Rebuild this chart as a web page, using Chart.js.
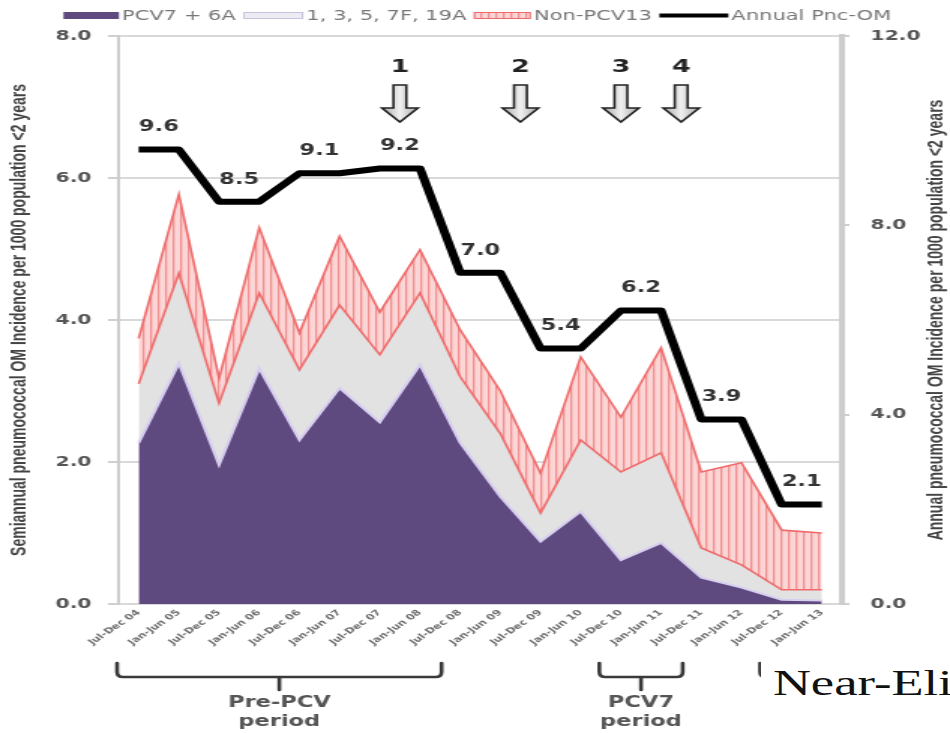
<!DOCTYPE html>
<html><head><meta charset="utf-8">
<script src="https://cdn.jsdelivr.net/npm/chart.js@4.4.1/dist/chart.umd.min.js"></script>
<style>
html,body{margin:0;padding:0;background:#fff;overflow:hidden;width:950px;height:733px}
#wrap{position:absolute;left:0;top:0;width:633px;height:733px;transform-origin:0 0;transform:scaleX(1.50079)}
#c{position:absolute;left:0;top:0}
#note{position:absolute;left:507px;top:657px;width:130px;height:76px;background:#fff;overflow:hidden;font-family:"Liberation Serif","DejaVu Serif",serif;font-size:35px;color:#111;white-space:nowrap}
#note span{position:absolute;left:8px;top:7px;line-height:40px}
</style></head>
<body>
<div id="wrap"><canvas id="c" width="633" height="733"></canvas><div id="note"><span>Near-Eli</span></div></div>
<script>
// ---------- data ----------
const categories = ['Jul-Dec 04','Jan-Jun 05','Jul-Dec 05','Jan-Jun 06','Jul-Dec 06','Jan-Jun 07','Jul-Dec 07','Jan-Jun 08','Jul-Dec 08','Jan-Jun 09','Jul-Dec 09','Jan-Jun 10','Jul-Dec 10','Jan-Jun 11','Jul-Dec 11','Jan-Jun 12','Jul-Dec 12','Jan-Jun 13'];
const seriesNames = ['PCV7 + 6A','1, 3, 5, 7F, 19A','Non-PCV13','Annual Pnc-OM'];
const pcv7Values    = [2.27,3.39,1.96,3.32,2.31,3.04,2.56,3.37,2.27,1.51,0.88,1.30,0.62,0.86,0.37,0.23,0.06,0.05];
const pcv13AddValues= [0.83,1.27,0.87,1.06,0.99,1.17,0.95,1.01,0.93,0.89,0.40,1.01,1.24,1.27,0.42,0.32,0.14,0.15];
const nonPcv13Values= [0.64,1.11,0.35,0.92,0.52,0.97,0.60,0.61,0.66,0.60,0.56,1.17,0.77,1.48,1.07,1.44,0.84,0.80];
const annualValues  = [9.6,9.6,8.5,8.5,9.1,9.1,9.2,9.2,7.0,7.0,5.4,5.4,6.2,6.2,3.9,3.9,2.1,2.1];
const eventLabels = ['1','2','3','4'];
const eventIndex  = [6.5,9.5,12,13.5];
const periodLabels = [['Pre-PCV','period'],['PCV7','period'],['PCV13','period']];
const periodStart = [0,12,16];
const periodEnd   = [7,13,17];
const leftTitle  = 'Semiannual pneumococcal OM Incidence per 1000 population <2 years';
const rightTitle = 'Annual pneumococcal OM Incidence per 1000 population <2 years';

// ---------- styles ----------
const PURPLE = '#5f4a80', GRAY = '#e2e2e2', REDLINE = '#ef6b6b';
const canvas = document.getElementById('c');
const ctx0 = canvas.getContext('2d');
function makeHatch(){
  const p = document.createElement('canvas'); p.width = 5; p.height = 10;
  const g = p.getContext('2d');
  g.fillStyle = '#fcd6d6'; g.fillRect(0,0,5,10);
  g.fillStyle = '#f09090'; g.fillRect(0,0,1.3,10);
  return ctx0.createPattern(p,'repeat');
}
const hatch = makeHatch();

const decor = {
  id:'decor',
  afterDraw(chart){
    const ctx = chart.ctx, xs = chart.scales.x, y1 = chart.scales.y1;
    const p0 = xs.getPixelForValue(0), step = xs.getPixelForValue(1) - p0;
    const px = i => p0 + step*i;
    ctx.save();
    // legend
    ctx.font = '14px "DejaVu Sans"';
    ctx.textBaseline = 'middle'; ctx.textAlign = 'left';
    const boxW = [37,40,38,46];
    let total = 0;
    const tw = seriesNames.map(s => ctx.measureText(s).width);
    for (let k=0;k<4;k++) total += boxW[k] + 2 + tw[k];
    total += 3*5;
    let x = 318 - total/2;
    for (let k=0;k<4;k++){
      if (k===0){ ctx.fillStyle = PURPLE; ctx.fillRect(x,12,boxW[k],7); }
      else if (k===1){ ctx.fillStyle='#ececf2'; ctx.fillRect(x,12,boxW[k],7); ctx.strokeStyle='#c9c2de'; ctx.lineWidth=1; ctx.strokeRect(x+0.5,12.5,boxW[k]-1,6); }
      else if (k===2){ ctx.fillStyle=hatch; ctx.fillRect(x,12,boxW[k],7); ctx.strokeStyle=REDLINE; ctx.lineWidth=1; ctx.strokeRect(x+0.5,12.5,boxW[k]-1,6); }
      else { ctx.fillStyle='#000'; ctx.fillRect(x,13.5,boxW[k],4); }
      x += boxW[k] + 2;
      ctx.fillStyle = '#777';
      ctx.fillText(seriesNames[k], x, 16);
      x += tw[k] + 5;
    }
    // annual labels
    ctx.font = 'bold 15px "DejaVu Sans"'; ctx.fillStyle = '#333'; ctx.textAlign = 'center';
    for (let i=0;i<annualValues.length;i+=2){
      const xm = (px(i)+px(i+1))/2;
      const yv = y1.getPixelForValue(annualValues[i]);
      ctx.fillText(annualValues[i].toFixed(1), xm, yv - 22);
    }
    // event arrows
    for (let k=0;k<eventLabels.length;k++){
      const cx = px(eventIndex[k]);
      ctx.font = 'bold 18px "DejaVu Sans"'; ctx.fillStyle = '#222';
      ctx.fillText(eventLabels[k], cx, 67);
      const hw = 12, sw = 4.3, top = 85, hy = 108, bot = 122;
      ctx.beginPath();
      ctx.moveTo(cx-sw,top); ctx.lineTo(cx+sw,top); ctx.lineTo(cx+sw,hy); ctx.lineTo(cx+hw,hy);
      ctx.lineTo(cx,bot); ctx.lineTo(cx-hw,hy); ctx.lineTo(cx-sw,hy); ctx.closePath();
      const gr = ctx.createLinearGradient(cx-hw,0,cx+hw,0);
      gr.addColorStop(0,'#a8a8a8'); gr.addColorStop(0.5,'#f0f0f0'); gr.addColorStop(1,'#a8a8a8');
      ctx.fillStyle = gr; ctx.fill();
      ctx.strokeStyle = '#222'; ctx.lineWidth = 1.6; ctx.lineJoin='miter'; ctx.stroke();
    }
    // period brackets
    for (let k=0;k<periodLabels.length;k++){
      const xa = px(periodStart[k]) - step/2 - 1, xb = px(periodEnd[k]) + step/2 + 1, xm = (xa+xb)/2;
      ctx.strokeStyle = '#3a3a3a'; ctx.lineWidth = 2.6; ctx.lineCap='round';
      ctx.beginPath();
      ctx.moveTo(xa,663); ctx.lineTo(xa,672); ctx.quadraticCurveTo(xa,677,xa+4,677);
      ctx.lineTo(xb-4,677); ctx.quadraticCurveTo(xb,677,xb,672); ctx.lineTo(xb,663);
      ctx.moveTo(xm,677); ctx.lineTo(xm,690);
      ctx.stroke();
      ctx.font = 'bold 15px "DejaVu Sans"'; ctx.fillStyle = '#555';
      ctx.fillText(periodLabels[k][0], xm, 703);
      ctx.fillText(periodLabels[k][1], xm, 722);
    }
    // right title
    ctx.translate(624.5, (chart.chartArea.top+chart.chartArea.bottom)/2);
    ctx.rotate(-Math.PI/2);
    ctx.font = 'bold 14px "Liberation Sans"'; ctx.fillStyle = '#444';
    ctx.fillText(rightTitle, 0, 0);
    ctx.restore();
  }
};

const tickFont = {family:'DejaVu Sans', size:13.5, weight:'bold'};
new Chart(canvas, {
  type:'line',
  data:{
    labels: categories,
    datasets:[
      {label:seriesNames[0], data:pcv7Values, yAxisID:'y', fill:'origin', backgroundColor:PURPLE, borderColor:'#d8cff0', borderWidth:2, pointRadius:0, tension:0},
      {label:seriesNames[1], data:pcv13AddValues, yAxisID:'y', fill:'-1', backgroundColor:GRAY, borderColor:REDLINE, borderWidth:1.6, pointRadius:0, tension:0},
      {label:seriesNames[2], data:nonPcv13Values, yAxisID:'y', fill:'-1', backgroundColor:hatch, borderColor:REDLINE, borderWidth:1.6, pointRadius:0, tension:0},
      {label:seriesNames[3], data:annualValues, yAxisID:'y1', fill:false, borderColor:'#000', borderWidth:6, pointRadius:0, tension:0, order:-1, borderJoinStyle:'round'}
    ]
  },
  options:{
    responsive:false, animation:false, events:[], devicePixelRatio:1,
    layout:{padding:{top:36,left:0,right:0,bottom:0}},
    plugins:{legend:{display:false}, tooltip:{enabled:false}},
    scales:{
      x:{
        offset:true,
        grid:{display:false, drawTicks:false},
        border:{display:false},
        ticks:{autoSkip:false, minRotation:45, maxRotation:45, padding:4, color:'#6e6e6e', font:{family:'DejaVu Sans', size:8, weight:'bold'}},
        afterFit(s){ s.height = 129; }
      },
      y:{
        position:'left', stacked:true, min:0, max:8,
        ticks:{stepSize:2, padding:11, color:'#555', font:tickFont, callback:v=>Number(v).toFixed(1)},
        grid:{color:'#d9d9d9', lineWidth:2, tickLength:7, tickColor:'#cfcfcf'},
        border:{display:true, color:'#cdcdcd', width:2},
        title:{display:true, text:leftTitle, color:'#444', font:{family:'Liberation Sans', size:14, weight:'bold'}, padding:{top:5,bottom:0}},
        afterFit(s){ s.width = 79; }
      },
      y1:{
        position:'right', min:0, max:12,
        ticks:{stepSize:4, padding:14, color:'#555', font:tickFont, callback:v=>Number(v).toFixed(1)},
        grid:{drawOnChartArea:false, tickLength:5, color:'#cfcfcf', lineWidth:2},
        border:{display:true, color:'#cdcdcd', width:4},
        afterFit(s){ s.width = 72; }
      }
    }
  },
  plugins:[decor]
});
</script>
</body></html>
